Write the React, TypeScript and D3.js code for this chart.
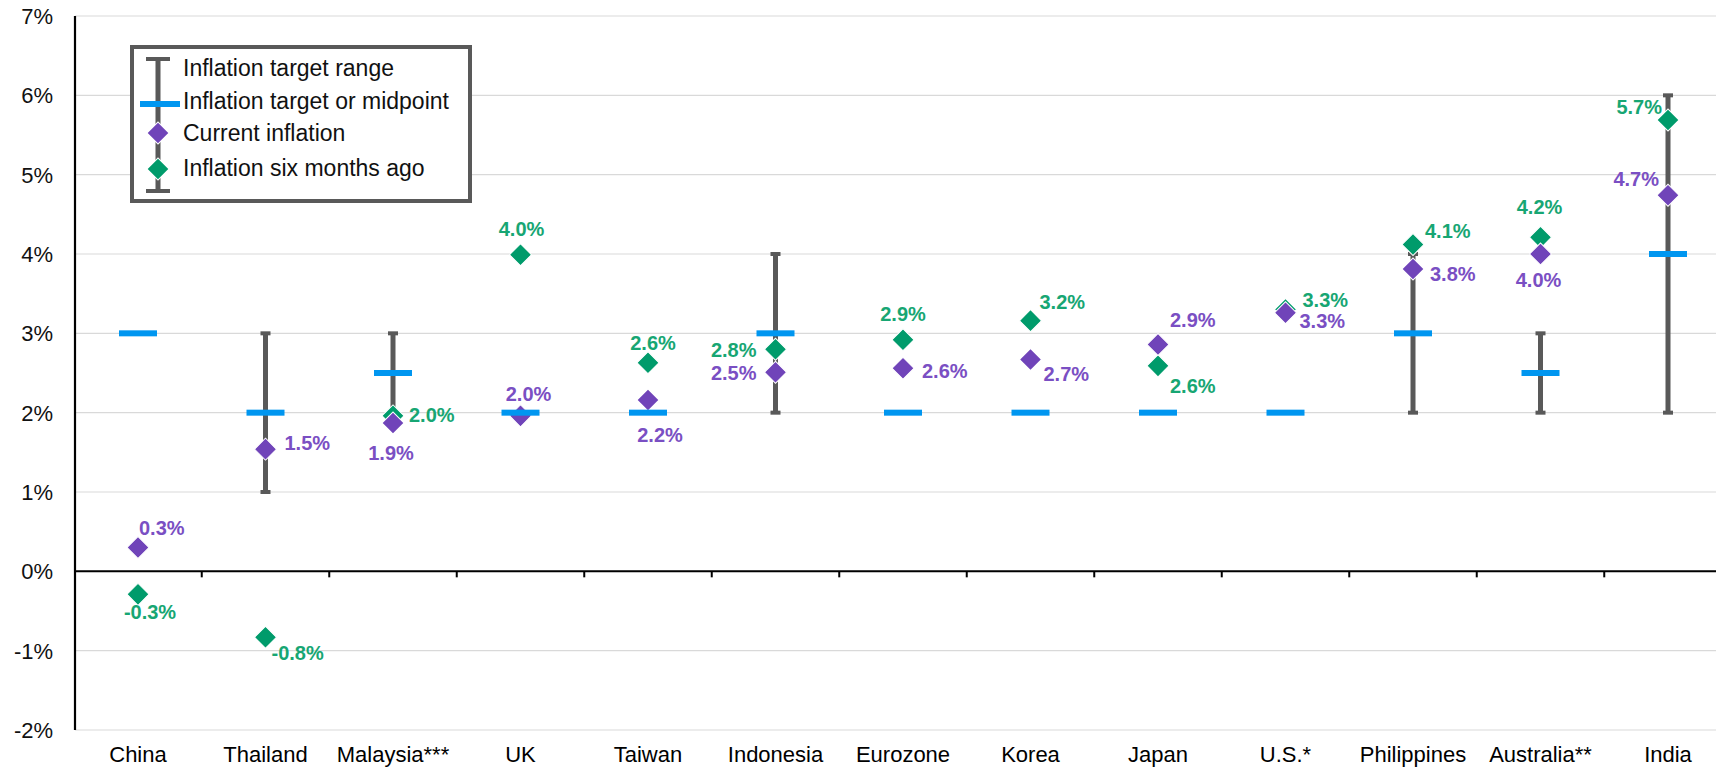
import React from "react";
import * as d3 from "d3";

// ---------- data ----------
const categories = ["China", "Thailand", "Malaysia***", "UK", "Taiwan", "Indonesia", "Eurozone", "Korea", "Japan", "U.S.*", "Philippines", "Australia**", "India"];
const targetMidpoint = [3, 2, 2.5, 2, 2, 3, 2, 2, 2, 2, 3, 2.5, 4];
const rangeLow: (number | null)[] = [null, 1, 2, null, null, 2, null, null, null, null, 2, 2, 2];
const rangeHigh: (number | null)[] = [null, 3, 3, null, null, 4, null, null, null, null, 4, 3, 6];
const currentInflation = [0.3, 1.54, 1.87, 1.96, 2.16, 2.51, 2.56, 2.67, 2.86, 3.26, 3.81, 4.0, 4.74];
const inflationSixMonthsAgo = [-0.29, -0.83, 1.96, 3.99, 2.63, 2.8, 2.92, 3.16, 2.59, 3.3, 4.12, 4.21, 5.69];
const yTicks = [-2, -1, 0, 1, 2, 3, 4, 5, 6, 7];
const legendLabels = ["Inflation target range", "Inflation target or midpoint", "Current inflation", "Inflation six months ago"];

// ---------- label layout (dx, dy from marker, anchor) ----------
type LP = [number, number, "start" | "middle" | "end"];
const currentLabelLayout: LP[] = [
  [1, -13, "start"], [19, 1, "start"], [-2, 37, "middle"], [8, -15, "middle"], [12, 42, "middle"],
  [-19, 8, "end"], [19, 10, "start"], [13, 21, "start"], [12, -17, "start"], [14, 15, "start"],
  [17, 12, "start"], [-2, 33, "middle"], [-9, -9, "end"],
];
const pastLabelLayout: LP[] = [
  [12, 25, "middle"], [6, 23, "start"], [16, 6, "start"], [1, -19, "middle"], [5, -13, "middle"],
  [-19, 8, "end"], [0, -19, "middle"], [9, -12, "start"], [12, 27, "start"], [17, -3, "start"],
  [12, -6, "start"], [-1, -23, "middle"], [-6, -6, "end"],
];

const W = 1716, H = 768;
const FONT = "'Liberation Sans', Arial, Helvetica, sans-serif";
const PURPLE = "#7044B9", PURPLE_TXT = "#7A4FC3";
const GREEN = "#009B6B", GREEN_TXT = "#17A673";
const BLUE = "#0096F0", GREY = "#595959";

const x = d3.scaleBand<string>().domain(categories).range([74.25, 1731.75]).padding(0);
const y = d3.scaleLinear().domain([-2, 7]).range([730, 16]);
const cx = (c: string) => (x(c) as number) + x.bandwidth() / 2;
const diamond = d3.symbol(d3.symbolSquare, 242)() as string;
const fmt = d3.formatLocale({ decimal: ".", thousands: ",", grouping: [3], currency: ["$", ""], minus: "-" }).format(".1f");

function Diamond({ px, py, fill }: { px: number; py: number; fill: string }) {
  return <path d={diamond} transform={`translate(${px},${py}) rotate(45)`} fill={fill} stroke="#fff" strokeWidth={1} />;
}

function RangeBar({ px, y0, y1 }: { px: number; y0: number; y1: number }) {
  return (
    <g>
      <line x1={px} x2={px} y1={y0} y2={y1} stroke={GREY} strokeWidth={5} />
      <rect x={px - 5} y={y0 - 2} width={10} height={4} fill={GREY} />
      <rect x={px - 5} y={y1 - 2} width={10} height={4} fill={GREY} />
    </g>
  );
}

export default function App() {
  const x0 = 75;
  return (
    <svg width={W} height={H} style={{ position: "absolute", left: 0, top: 0, background: "#fff" }} fontFamily={FONT}>
      {/* gridlines */}
      {yTicks.map((t) => (
        <line key={"g" + t} x1={x0} x2={W} y1={y(t)} y2={y(t)} stroke="#d9d9d9" strokeWidth={1.2} />
      ))}
      {/* y tick labels */}
      {yTicks.map((t) => (
        <text key={"t" + t} x={53} y={y(t) + 8} textAnchor="end" fontSize={22} fill="#111">{`${t}%`}</text>
      ))}
      {/* y axis */}
      <line x1={x0} x2={x0} y1={y(7)} y2={y(-2)} stroke="#000" strokeWidth={2.2} />
      {/* zero line */}
      <line x1={x0} x2={W} y1={y(0)} y2={y(0)} stroke="#000" strokeWidth={2} />
      {categories.slice(1).map((c) => (
        <line key={"tk" + c} x1={x(c) as number} x2={x(c) as number} y1={y(0)} y2={y(0) + 6} stroke="#000" strokeWidth={2} />
      ))}
      {/* category labels */}
      {categories.map((c) => (
        <text key={"c" + c} x={cx(c)} y={762} textAnchor="middle" fontSize={22} fill="#000">{c}</text>
      ))}
      {/* range bars */}
      {categories.map((c, i) =>
        rangeLow[i] != null && rangeHigh[i] != null ? (
          <RangeBar key={"r" + c} px={cx(c)} y0={y(rangeHigh[i] as number)} y1={y(rangeLow[i] as number)} />
        ) : null
      )}
      {/* six months ago */}
      {categories.map((c, i) => (
        <Diamond key={"p" + c} px={cx(c)} py={y(inflationSixMonthsAgo[i])} fill={GREEN} />
      ))}
      {/* current */}
      {categories.map((c, i) => (
        <Diamond key={"cu" + c} px={cx(c)} py={y(currentInflation[i])} fill={PURPLE} />
      ))}
      {/* target midpoint */}
      {categories.map((c, i) => (
        <rect key={"m" + c} x={cx(c) - 19} y={y(targetMidpoint[i]) - 3} width={38} height={6} fill={BLUE} />
      ))}
      {/* labels */}
      {categories.map((c, i) => {
        const [dx, dy, a] = pastLabelLayout[i];
        return (
          <text key={"pl" + c} x={cx(c) + dx} y={y(inflationSixMonthsAgo[i]) + dy} textAnchor={a} fontSize={20} fontWeight="bold" fill={GREEN_TXT}>
            {`${fmt(inflationSixMonthsAgo[i])}%`}
          </text>
        );
      })}
      {categories.map((c, i) => {
        const [dx, dy, a] = currentLabelLayout[i];
        return (
          <text key={"cl" + c} x={cx(c) + dx} y={y(currentInflation[i]) + dy} textAnchor={a} fontSize={20} fontWeight="bold" fill={PURPLE_TXT}>
            {`${fmt(currentInflation[i])}%`}
          </text>
        );
      })}
      {/* legend */}
      <g>
        <rect x={132} y={47} width={338} height={154} fill="#fff" stroke={GREY} strokeWidth={4} />
        <line x1={158} x2={158} y1={59} y2={191} stroke={GREY} strokeWidth={5} />
        <rect x={146} y={57} width={24} height={4} fill={GREY} />
        <rect x={146} y={189} width={24} height={4} fill={GREY} />
        <rect x={140} y={101} width={40} height={6} fill={BLUE} />
        <Diamond px={158} py={133} fill={PURPLE} />
        <Diamond px={158} py={169} fill={GREEN} />
        {legendLabels.map((l, i) => (
          <text key={"lg" + i} x={183} y={[76, 109, 141, 176][i]} fontSize={23} fill="#111">{l}</text>
        ))}
      </g>
    </svg>
  );
}
